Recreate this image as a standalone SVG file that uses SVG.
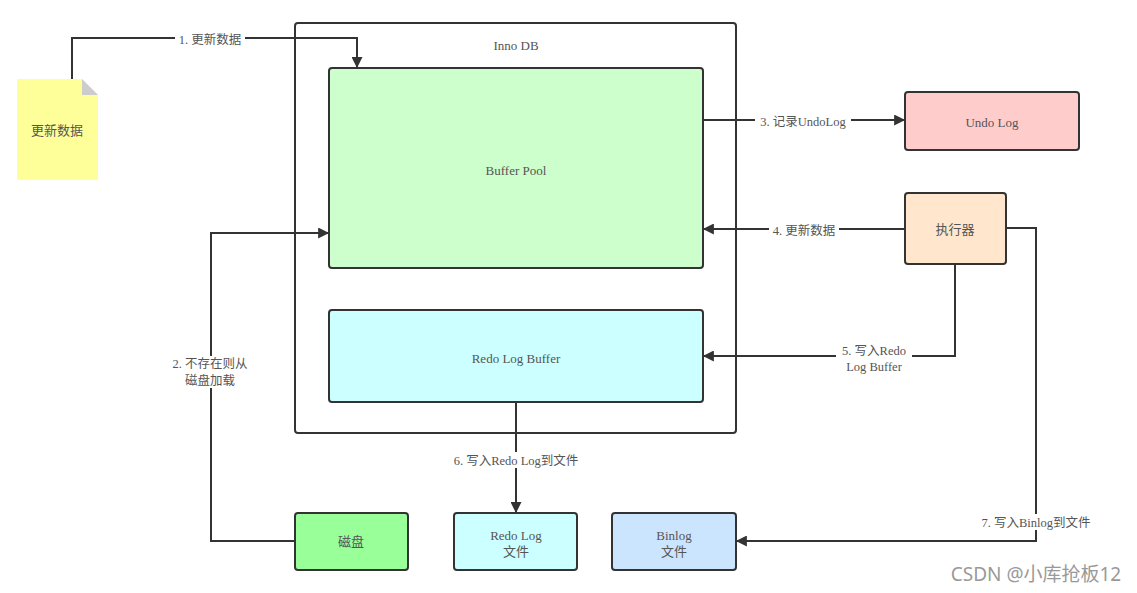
<svg xmlns="http://www.w3.org/2000/svg" width="1137" height="593" viewBox="0 0 1137 593">
<style>
.box{stroke:#333;stroke-width:2}
.t{font-family:"Liberation Serif","Noto Sans CJK SC",serif;font-size:13px;fill:#555;text-anchor:middle}
.lbl{font-family:"Liberation Serif","Noto Sans CJK SC",serif;font-size:12.5px;fill:#555;text-anchor:middle}
.c{fill:none;stroke:#333;stroke-width:2}
.bg{fill:#fff}
</style>
<defs>
<marker id="arr" viewBox="0 0 10 10" refX="9" refY="5" markerWidth="12" markerHeight="11" markerUnits="userSpaceOnUse" orient="auto">
<path d="M0,0 L10,5 L0,10 z" fill="#333"/>
</marker>
</defs>
<rect width="1137" height="593" fill="#fff"/>
<g id="innodb">
<rect x="295" y="23" width="441" height="410" rx="3" fill="#fff" class="box"/>
<text x="516" y="50" class="t">Inno DB</text>
</g>
<g id="bufferpool">
<rect x="329" y="68" width="374" height="200" rx="3" fill="#ccffcc" class="box"/>
<text x="516" y="175" class="t">Buffer Pool</text>
</g>
<g id="redologbuffer">
<rect x="329" y="310" width="374" height="92" rx="3" fill="#ccffff" class="box"/>
<text x="516" y="363" class="t">Redo Log Buffer</text>
</g>
<g id="undolog">
<rect x="905" y="92" width="174" height="58" rx="3" fill="#ffcccc" class="box"/>
<text x="992" y="127" class="t">Undo Log</text>
</g>
<g id="executor">
<rect x="905" y="193" width="101" height="71" rx="3" fill="#ffe6cc" class="box"/>
<text x="955" y="234" class="t">执行器</text>
</g>
<g id="disk">
<rect x="295" y="513" width="113" height="57" rx="3" fill="#99ff99" class="box"/>
<text x="351" y="546" class="t">磁盘</text>
</g>
<g id="redologfile">
<rect x="454" y="513" width="123" height="57" rx="3" fill="#ccffff" class="box"/>
<text x="516" y="540" class="t">Redo Log</text>
<text x="516" y="556" class="t">文件</text>
</g>
<g id="binlogfile">
<rect x="612" y="513" width="124" height="57" rx="3" fill="#cce5ff" class="box"/>
<text x="674" y="540" class="t">Binlog</text>
<text x="674" y="556" class="t">文件</text>
</g>
<g id="note">
<path d="M17,79 L82,79 L98,95 L98,180 L17,180 z" fill="#ffff99"/>
<path d="M82,79 L98,95 L82,95 z" fill="#ccc"/>
<text x="57" y="135" class="t">更新数据</text>
</g>
<g id="connectors">
<path class="c" d="M72,79 L72,38 L357,38 L357,67" marker-end="url(#arr)"/>
<path class="c" d="M295,541 L211,541 L211,233 L328,233" marker-end="url(#arr)"/>
<path class="c" d="M703,120 L904,120" marker-end="url(#arr)"/>
<path class="c" d="M905,229 L704,229" marker-end="url(#arr)"/>
<path class="c" d="M955,264 L955,356 L704,356" marker-end="url(#arr)"/>
<path class="c" d="M516,402 L516,512" marker-end="url(#arr)"/>
<path class="c" d="M1006,228 L1036,228 L1036,541 L737,541" marker-end="url(#arr)"/>
<rect x="175" y="32" width="70" height="14" class="bg"/>
<text x="210" y="44" class="lbl">1. 更新数据</text>
<rect x="166" y="356" width="90" height="32" class="bg"/>
<text x="210" y="368" class="lbl">2. 不存在则从</text>
<text x="210" y="385" class="lbl">磁盘加载</text>
<rect x="755" y="113" width="96" height="15" class="bg"/>
<text x="803" y="126" class="lbl">3. 记录UndoLog</text>
<rect x="769" y="222" width="70" height="15" class="bg"/>
<text x="804" y="235" class="lbl">4. 更新数据</text>
<rect x="836" y="343" width="76" height="32" class="bg"/>
<text x="874" y="355" class="lbl">5. 写入Redo</text>
<text x="874" y="371" class="lbl">Log Buffer</text>
<rect x="446" y="452" width="140" height="16" class="bg"/>
<text x="516" y="465" class="lbl">6. 写入Redo Log到文件</text>
<rect x="974" y="514" width="124" height="16" class="bg"/>
<text x="1036" y="527" class="lbl">7. 写入Binlog到文件</text>
</g>
<text x="1036" y="581" font-family="'Noto Sans','Noto Sans CJK SC',sans-serif" font-size="19" fill="#999" text-anchor="middle">CSDN @小库抢板12</text>
</svg>
